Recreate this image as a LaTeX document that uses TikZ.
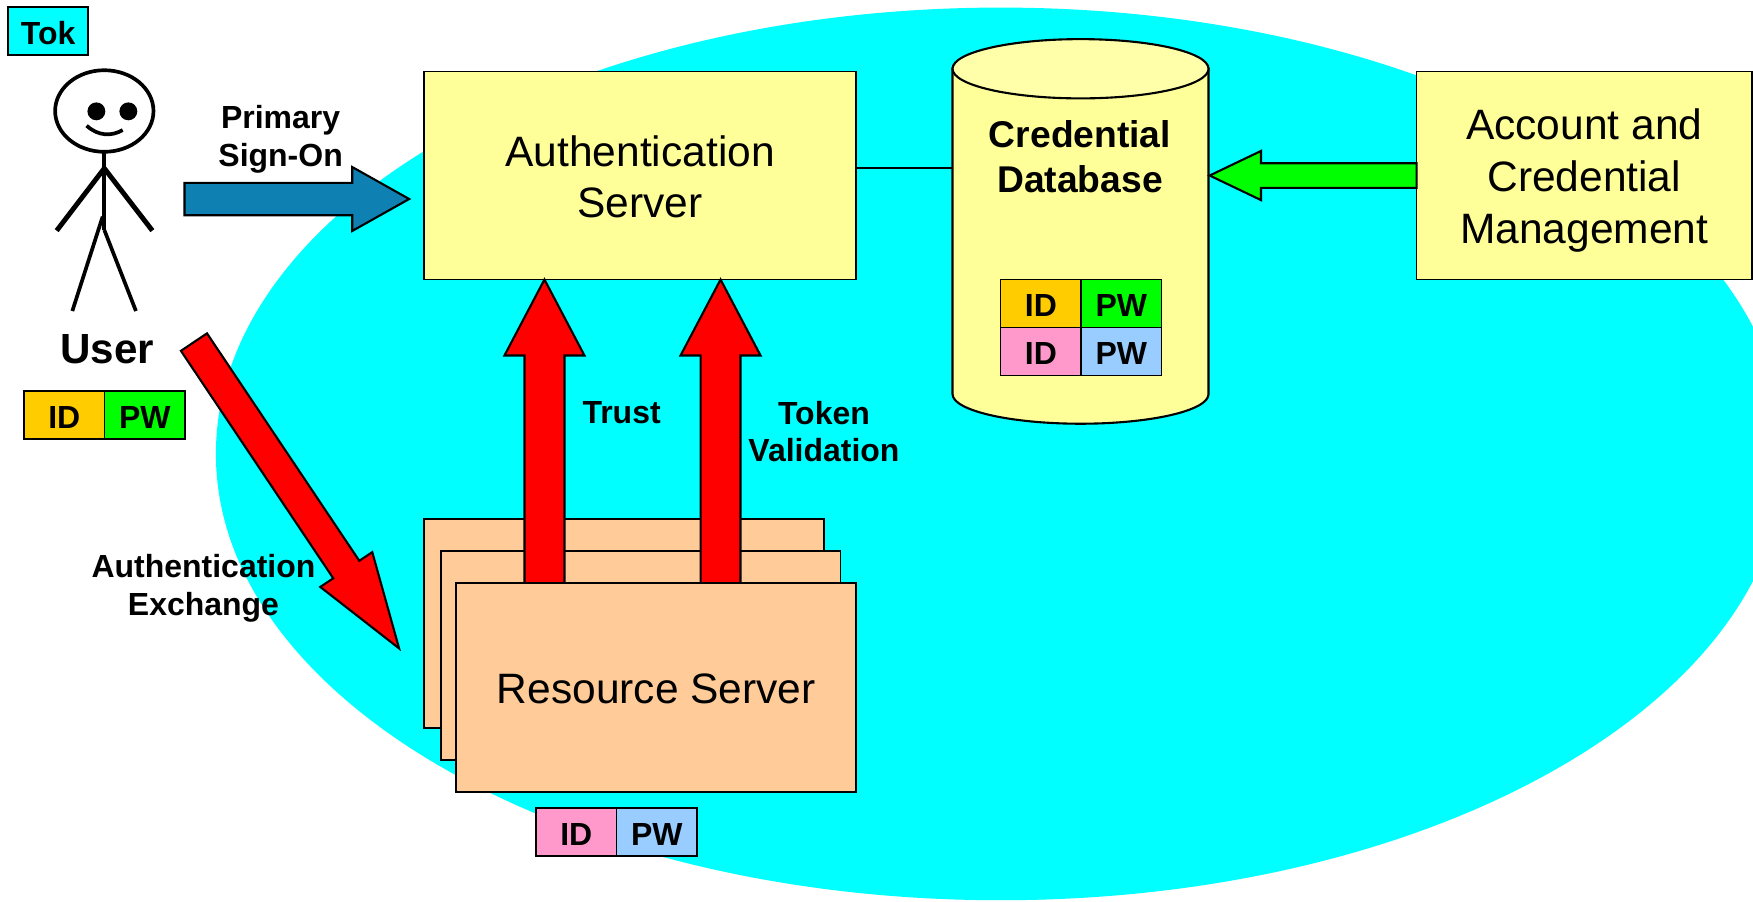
\documentclass[tikz,border=0pt]{standalone}
\usepackage{fontspec}
\setmainfont{Liberation Sans}
\usetikzlibrary{calc}
\usetikzlibrary{positioning}
\usetikzlibrary{shapes.geometric}

\definecolor{realmcyan}{HTML}{00FFFF}
\definecolor{boxyellow}{HTML}{FFFF99}
\definecolor{dbtop}{HTML}{FFFFAA}
\definecolor{serverpeach}{HTML}{FFCC99}
\definecolor{idorange}{HTML}{FFCC00}
\definecolor{idpink}{HTML}{FF99CC}
\definecolor{pwgreen}{HTML}{00FF00}
\definecolor{pwblue}{HTML}{99CCFF}
\definecolor{signonblue}{HTML}{0E80B2}

\tikzset{
    bigtext/.style={font=\fontsize{12.1}{14.7}\selectfont,align=center},
    boldtext/.style={font=\fontsize{9.1}{10.8}\selectfont\bfseries,align=center},
    plainbox/.style={draw,line width=0.5pt,inner sep=0pt,outer sep=0pt},
    authbox/.style={plainbox,bigtext,fill=boxyellow,minimum height=2.08cm},
    serverbox/.style={plainbox,bigtext,fill=serverpeach,minimum width=4cm,minimum height=2.09cm},
    cellbox/.style={plainbox,boldtext,text height=7.6pt,minimum width=0.805cm,minimum height=0.48cm},
    fatline/.style={draw,line width=0.6pt,line join=miter},
    figline/.style={line width=1.05pt}
}

\newcommand{\fatarrow}[6]{
    \coordinate (fatbase) at ($(#3)!#6!(#2)$);
    \draw[fatline,fill=#1] ($(#2)!#4!90:(#3)$) -- ($(fatbase)!#4!-90:(#2)$)
        -- ($(fatbase)!#5!-90:(#2)$) -- (#3) -- ($(fatbase)!#5!90:(#2)$)
        -- ($(fatbase)!#4!90:(#2)$) -- ($(#2)!#4!-90:(#3)$) -- cycle;
}

\begin{document}
\begin{tikzpicture}[x=0.01118cm,y=-0.01118cm]
        \useasboundingbox (0,0) rectangle (1568,806);
        \clip (0,0) rectangle (1568,806);
        \node[ellipse,fill=realmcyan,inner sep=0pt,minimum width=15.7cm,minimum height=8.93cm] (realm) at (895,406) {};

        \coordinate (linkleft) at (770,150);
        \node[authbox,minimum width=4.327cm] (auth) at (572.5,157) {};
        \node[bigtext] (authlabel) at (572.5,158) {Authentication\\Server};
        \node[inner sep=0pt,outer sep=0pt,minimum width=2.56cm,minimum height=3.85cm] (db) at (966.5,207) {};
        \draw[line width=0.6pt,fill=boxyellow] (852,61.5) -- (852,352.5) arc (180:0:114.5 and 26.5) -- (1081,61.5) -- cycle;
        \draw[line width=0.6pt,fill=dbtop] (966.5,61.5) ellipse (114.5 and 26.5);
        \node[boldtext,font=\fontsize{10.6}{12.7}\selectfont\bfseries] (dblabel) at (966,140) {Credential\\Database};
        \node[authbox,minimum width=3.354cm] (account) at (1417,157) {};
        \node[bigtext] (accountlabel) at (1417,161.5) {Account and\\Credential\\Management};
        \draw[line width=0.5pt] (auth.east|-linkleft) -- (db.west|-linkleft);

        \node[cellbox,fill=idorange] (dbid) at (931,271.5) {ID};
        \node[cellbox,fill=pwgreen,right=0pt of dbid] (dbpw) {PW};
        \node[cellbox,fill=idpink,below=0pt of dbid] (srvid) {ID};
        \node[cellbox,fill=pwblue,right=0pt of srvid] (srvpw) {PW};

        \coordinate (mgmtarrow) at (auth.east-|account.west);
        \coordinate (dbarrow) at (1082,157);
        \fatarrow{pwgreen}{mgmtarrow}{dbarrow}{0.123cm}{0.246cm}{0.514cm}

        \node[serverbox] (rsback) at (558,557.5) {};
        \node[serverbox] (rsmid) at (573,586.5) {};
        \coordinate (trustbase) at (487,522);
        \coordinate (trusttip) at (487,250);
        \coordinate (tokenbase) at (644.5,522);
        \coordinate (tokentip) at (644.5,250);
        \fatarrow{red}{trustbase}{trusttip}{0.2cm}{0.4cm}{0.76cm}
        \fatarrow{red}{tokenbase}{tokentip}{0.2cm}{0.4cm}{0.76cm}
        \node[serverbox] (rsfront) at (587,615) {};
        \node[bigtext] (rslabel) at (587,616) {Resource Server};

        \node[cellbox,fill=idorange] (userid) at (57.5,371.5) {ID};
        \node[cellbox,fill=pwgreen,right=0pt of userid] (userpw) {PW};
        \node[cellbox,fill=idpink] (rsid) at (515.5,744.5) {ID};
        \node[cellbox,fill=pwblue,right=0pt of rsid] (rspw) {PW};
        \node[cellbox,fill=realmcyan] (tok) at (43,28) {Tok};

        \node[draw,ellipse,figline,fill=white,inner sep=0pt,outer sep=0pt,minimum width=0.984cm,minimum height=0.816cm] (head) at (93.3,99.3) {};
        \fill (86.2,99.6) circle (8);
        \fill (114.8,99.6) circle (8);
        \draw[figline] (77.5,112.4) .. controls (88,122) and (100,122) .. (109.7,116.3);
        \coordinate (shoulder) at (93.3,150.6);
        \coordinate (hip) at (93.3,205.7);
        \coordinate (handleft) at (50.7,206.3);
        \coordinate (handright) at (136.3,206.3);
        \coordinate (footleft) at (64.7,278.2);
        \coordinate (footright) at (121.6,278.2);
        \draw[figline] (head.south) -- (hip);
        \draw[line width=1.4pt] (handleft) -- (shoulder) -- (handright);
        \draw[figline] (91.8,193.8) -- (footleft);
        \draw[figline] (hip) -- (footright);
        \node[font=\fontsize{12}{14}\selectfont\bfseries] (user) at (96,312) {User};

        \coordinate (signonbase) at (165,178);
        \coordinate (signontip) at (366,178);
        \fatarrow{signonblue}{signonbase}{signontip}{0.162cm}{0.32cm}{0.57cm}
        \node[boldtext] (signon) at (251,125) {Primary\\Sign-On};

        \coordinate (exchbase) at (173.5,306);
        \coordinate (exchtip) at (357,580);
        \fatarrow{red}{exchbase}{exchtip}{0.157cm}{0.313cm}{0.95cm}
        \node[boldtext] (exchange) at (182,526) {Authentication\\Exchange};
        \node[boldtext] (trust) at (556,369) {Trust};
        \node[boldtext] (token) at (737,386) {Token\\Validation};
    \end{tikzpicture}
\end{document}
